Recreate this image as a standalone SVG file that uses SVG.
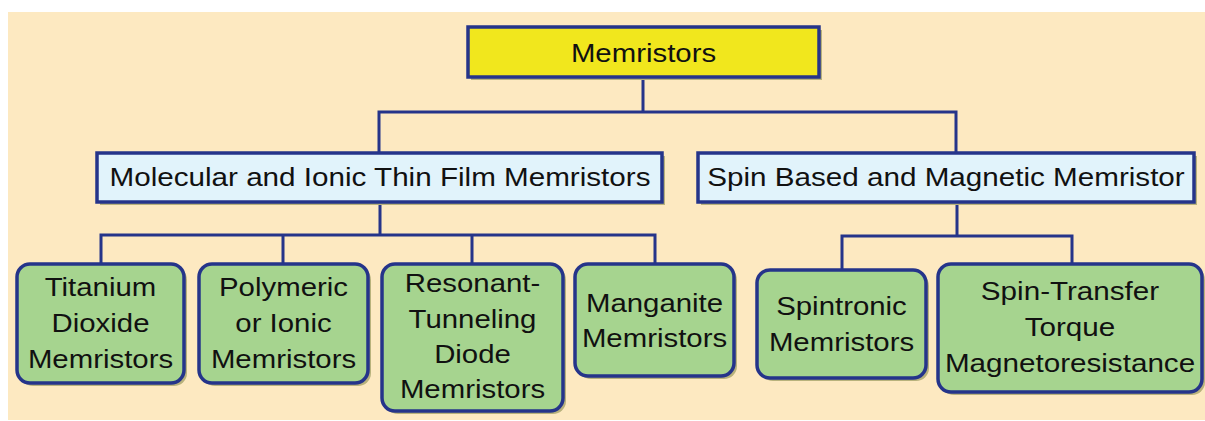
<svg xmlns="http://www.w3.org/2000/svg" width="1205" height="421" viewBox="0 0 1205 421">
<style>
.t{font-family:"Liberation Sans",Arial,sans-serif;font-size:26px;fill:#111;text-anchor:middle}
.box{stroke:#25348a;stroke-width:3.5}
.sh{fill:#b8b27c}
.conn{fill:none;stroke:#25348a;stroke-width:3}
</style>
<rect x="8" y="12" width="1197" height="408" fill="#fde9c1"/>
<g id="connectors" class="conn">
<path d="M643 77 V112 M379 153 V112 H956 V153"/>
<path d="M380 202 V235 M101 264 V235 H655 V264 M283 235 V264 M472 235 V264"/>
<path d="M957 202 V236 M842 270 V236 H1072 V264"/>
</g>
<g id="memristors">
<rect class="sh" x="471" y="30" width="351" height="50"/>
<rect class="box" x="468" y="27" width="351" height="50" fill="#f1e71d"/>
<text class="t" transform="translate(643.5,62) scale(1.13,1)">Memristors</text>
</g>
<g id="molecular">
<rect class="sh" x="100" y="156" width="565" height="49"/>
<rect class="box" x="97" y="153" width="565" height="49" fill="#e1f3fb"/>
<text class="t" transform="translate(380,186) scale(1.14,1)">Molecular and Ionic Thin Film Memristors</text>
</g>
<g id="spin">
<rect class="sh" x="701" y="156" width="496" height="49"/>
<rect class="box" x="698" y="153" width="496" height="49" fill="#e1f3fb"/>
<text class="t" transform="translate(946,186) scale(1.14,1)">Spin Based and Magnetic Memristor</text>
</g>
<g id="titanium">
<rect class="sh" x="20" y="267" width="167" height="119" rx="13"/>
<rect class="box" x="17" y="264" width="167" height="119" rx="13" fill="#a6d48f"/>
<text class="t" transform="translate(100.5,296) scale(1.13,1)">Titanium</text>
<text class="t" transform="translate(100.5,332) scale(1.13,1)">Dioxide</text>
<text class="t" transform="translate(100.5,368) scale(1.13,1)">Memristors</text>
</g>
<g id="polymeric">
<rect class="sh" x="202" y="267" width="169" height="119" rx="13"/>
<rect class="box" x="199" y="264" width="169" height="119" rx="13" fill="#a6d48f"/>
<text class="t" transform="translate(283.5,296) scale(1.13,1)">Polymeric</text>
<text class="t" transform="translate(283.5,332) scale(1.13,1)">or Ionic</text>
<text class="t" transform="translate(283.5,368) scale(1.13,1)">Memristors</text>
</g>
<g id="resonant">
<rect class="sh" x="385" y="267" width="181" height="147" rx="13"/>
<rect class="box" x="382" y="264" width="181" height="147" rx="13" fill="#a6d48f"/>
<text class="t" transform="translate(472.5,292) scale(1.13,1)">Resonant-</text>
<text class="t" transform="translate(472.5,328) scale(1.13,1)">Tunneling</text>
<text class="t" transform="translate(472.5,363) scale(1.13,1)">Diode</text>
<text class="t" transform="translate(472.5,398) scale(1.13,1)">Memristors</text>
</g>
<g id="manganite">
<rect class="sh" x="578" y="267" width="159" height="112" rx="13"/>
<rect class="box" x="575" y="264" width="159" height="112" rx="13" fill="#a6d48f"/>
<text class="t" transform="translate(654.5,312) scale(1.13,1)">Manganite</text>
<text class="t" transform="translate(654.5,347) scale(1.13,1)">Memristors</text>
</g>
<g id="spintronic">
<rect class="sh" x="760" y="273" width="169" height="108" rx="13"/>
<rect class="box" x="757" y="270" width="169" height="108" rx="13" fill="#a6d48f"/>
<text class="t" transform="translate(841.5,315) scale(1.13,1)">Spintronic</text>
<text class="t" transform="translate(841.5,351) scale(1.13,1)">Memristors</text>
</g>
<g id="stt">
<rect class="sh" x="941" y="267" width="264" height="128" rx="13"/>
<rect class="box" x="938" y="264" width="264" height="128" rx="13" fill="#a6d48f"/>
<text class="t" transform="translate(1070,300) scale(1.14,1)">Spin-Transfer</text>
<text class="t" transform="translate(1070,336) scale(1.14,1)">Torque</text>
<text class="t" transform="translate(1070,372) scale(1.14,1)">Magnetoresistance</text>
</g>
</svg>
